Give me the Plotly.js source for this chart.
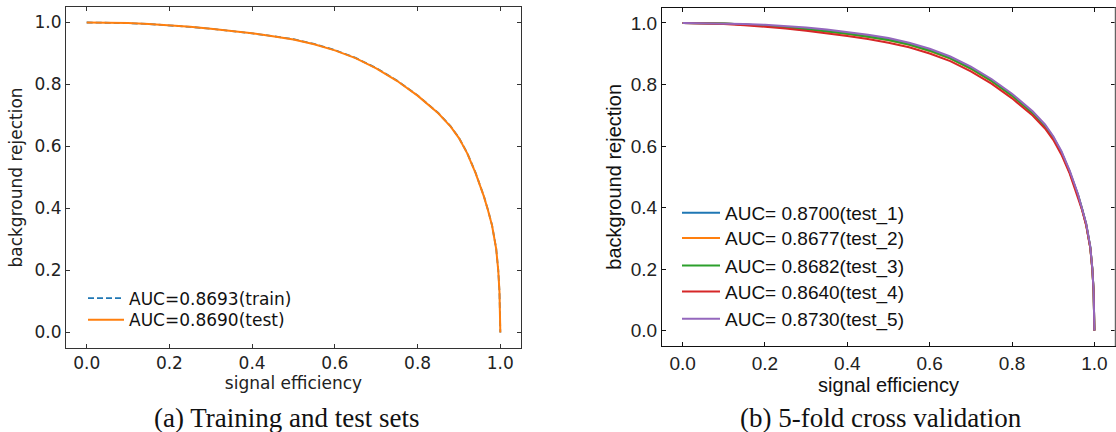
<!DOCTYPE html>
<html>
<head>
<meta charset="utf-8">
<script src="https://cdn.plot.ly/plotly-3.0.1.min.js"></script>
<style>html,body{margin:0;padding:0;background:#fff;}#chart{width:1116px;height:432px;}</style>
</head>
<body>
<div id="chart"></div>
<script>
// signal efficiency (x) values shared by all curves
const signalEff = [0, 0.05, 0.1, 0.15, 0.2, 0.25, 0.3, 0.35, 0.4, 0.45, 0.5, 0.55, 0.6, 0.65, 0.7, 0.75, 0.8, 0.85, 0.88, 0.9, 0.92, 0.94, 0.96, 0.97, 0.98, 0.99, 0.995, 0.998, 1.0];

// (a) training and test sets - background rejection
const bkgTrain = [1.000, 0.9995, 0.998, 0.995, 0.991, 0.986, 0.980, 0.973, 0.965, 0.956, 0.946, 0.931, 0.911, 0.886, 0.853, 0.813, 0.765, 0.708, 0.665, 0.628, 0.579, 0.516, 0.441, 0.396, 0.346, 0.271, 0.201, 0.131, 0.000];
const bkgTest  = [1.000, 0.9995, 0.998, 0.995, 0.991, 0.986, 0.980, 0.973, 0.965, 0.956, 0.945, 0.930, 0.910, 0.885, 0.852, 0.812, 0.764, 0.707, 0.664, 0.627, 0.578, 0.515, 0.440, 0.395, 0.345, 0.270, 0.200, 0.130, 0.000];

// (b) 5-fold cross validation - background rejection
const bkgFold1 = [1.000, 0.9995, 0.998, 0.995, 0.992, 0.987, 0.981, 0.975, 0.967, 0.958, 0.947, 0.932, 0.912, 0.887, 0.854, 0.814, 0.766, 0.709, 0.666, 0.629, 0.580, 0.517, 0.442, 0.397, 0.347, 0.272, 0.201, 0.131, 0.000];
const bkgFold2 = [1.000, 0.9995, 0.998, 0.995, 0.991, 0.985, 0.979, 0.972, 0.964, 0.955, 0.944, 0.929, 0.909, 0.884, 0.851, 0.811, 0.763, 0.706, 0.663, 0.626, 0.577, 0.514, 0.439, 0.394, 0.344, 0.269, 0.199, 0.129, 0.000];
const bkgFold3 = [1.000, 0.9995, 0.998, 0.995, 0.991, 0.986, 0.980, 0.973, 0.965, 0.955, 0.945, 0.930, 0.910, 0.885, 0.852, 0.812, 0.764, 0.707, 0.664, 0.627, 0.578, 0.515, 0.440, 0.395, 0.345, 0.270, 0.200, 0.130, 0.000];
const bkgFold4 = [1.000, 0.999, 0.997, 0.993, 0.988, 0.982, 0.975, 0.967, 0.958, 0.948, 0.936, 0.921, 0.901, 0.876, 0.843, 0.803, 0.755, 0.699, 0.657, 0.620, 0.572, 0.510, 0.436, 0.392, 0.342, 0.268, 0.198, 0.129, 0.000];
const bkgFold5 = [1.000, 0.9995, 0.999, 0.997, 0.994, 0.990, 0.985, 0.979, 0.971, 0.962, 0.951, 0.936, 0.916, 0.891, 0.858, 0.818, 0.770, 0.713, 0.670, 0.632, 0.583, 0.520, 0.444, 0.399, 0.348, 0.273, 0.202, 0.131, 0.000];

const leftLabels = ["AUC=0.8693(train)", "AUC=0.8690(test)"];
const foldLabels = ["AUC= 0.8700(test_1)", "AUC= 0.8677(test_2)", "AUC= 0.8682(test_3)", "AUC= 0.8640(test_4)", "AUC= 0.8730(test_5)"];
const foldSeries = [bkgFold1, bkgFold2, bkgFold3, bkgFold4, bkgFold5];
const foldColors = ["#1f77b4", "#ff7f0e", "#2ca02c", "#d62728", "#9467bd"];

const tickVals = [0, 0.2, 0.4, 0.6, 0.8, 1.0];
const tickText = ["0.0", "0.2", "0.4", "0.6", "0.8", "1.0"];
const captions = ["(a) Training and test sets", "(b) 5-fold cross validation"];
const xTitle = "signal efficiency";
const yTitle = "background rejection";

const LFONT = "DejaVu Sans, sans-serif";
const RFONT = "Liberation Sans, Arial, sans-serif";
const W = 1116, H = 432;

const traces = [
  {x: signalEff, y: bkgTrain, name: leftLabels[0], type: "scatter", mode: "lines",
   line: {color: "#1f77b4", width: 1.8, dash: "6px,3px"},
   xaxis: "x", yaxis: "y", legend: "legend"},
  {x: signalEff, y: bkgTest, name: leftLabels[1], type: "scatter", mode: "lines",
   line: {color: "#ff7f0e", width: 2},
   xaxis: "x", yaxis: "y", legend: "legend2"}
];
foldSeries.forEach((s, i) => {
  traces.push({x: signalEff, y: s, name: foldLabels[i], type: "scatter", mode: "lines",
    line: {color: foldColors[i], width: 2},
    xaxis: "x2", yaxis: "y2", legend: "legend" + (i + 3)});
});

function axisBase(font, size, col) {
  return {
    range: [-0.05, 1.05], autorange: false,
    tickmode: "array", tickvals: tickVals, ticktext: tickText,
    ticks: "inside", ticklen: 4, tickwidth: 1, tickcolor: col,
    showline: true, linecolor: col, linewidth: 1, mirror: "allticks",
    showgrid: false, zeroline: false, automargin: false,
    tickfont: {family: font, size: size, color: "#222"},
    fixedrange: true
  };
}

const xa = Object.assign(axisBase(LFONT, 17, "#333"), {domain: [66/W, 521/W], anchor: "y",
  title: {text: xTitle, font: {family: LFONT, size: 17, color: "#222"}, standoff: 4}});
const ya = Object.assign(axisBase(LFONT, 17, "#333"), {domain: [(H-348)/H, (H-7)/H], anchor: "x",
  title: {text: yTitle, font: {family: LFONT, size: 17, color: "#222"}, standoff: 7}});
const xa2 = Object.assign(axisBase(RFONT, 19, "#111"), {domain: [662/W, 1115/W], anchor: "y2",
  title: {text: xTitle, font: {family: RFONT, size: 20, color: "#111"}, standoff: 4}});
const ya2 = Object.assign(axisBase(RFONT, 19, "#111"), {domain: [(H-346)/H, (H-7.6)/H], anchor: "x2",
  title: {text: yTitle, font: {family: RFONT, size: 20, color: "#111"}, standoff: 3}});

function mkLegend(xpx, topPx, font, size, iw) {
  return {x: xpx/W, y: (H-topPx)/H, xanchor: "left", yanchor: "top",
    bgcolor: "rgba(0,0,0,0)", borderwidth: 0, itemwidth: iw,
    font: {family: font, size: size, color: "#111"}};
}

const layout = {
  width: W, height: H,
  margin: {l: 0, r: 0, t: 0, b: 0},
  paper_bgcolor: "#fff", plot_bgcolor: "#fff",
  xaxis: xa, yaxis: ya, xaxis2: xa2, yaxis2: ya2,
  legend: mkLegend(83, 280.5, LFONT, 17, 36),
  legend2: mkLegend(83, 302.3, LFONT, 17, 36),
  legend3: mkLegend(677, 194, RFONT, 19, 38),
  legend4: mkLegend(677, 219.2, RFONT, 19, 38),
  legend5: mkLegend(677, 246.6, RFONT, 19, 38),
  legend6: mkLegend(677, 272.6, RFONT, 19, 38),
  legend7: mkLegend(677, 300, RFONT, 19, 38),
  showlegend: true,
  shapes: [
    {type: "line", xref: "x2 domain", yref: "y2 domain", x0: 1, x1: 1, y0: 0, y1: 1,
     line: {color: "#b8b8b8", width: 1}, layer: "above"}
  ],
  annotations: [
    {text: captions[0], xref: "paper", yref: "paper", x: 286/W, y: (H-418)/H,
     xanchor: "center", yanchor: "middle", showarrow: false,
     font: {family: "Liberation Serif, Times New Roman, serif", size: 27, color: "#111"}},
    {text: captions[1], xref: "paper", yref: "paper", x: 881/W, y: (H-418)/H,
     xanchor: "center", yanchor: "middle", showarrow: false,
     font: {family: "Liberation Serif, Times New Roman, serif", size: 27, color: "#111"}}
  ]
};

Plotly.newPlot("chart", traces, layout, {staticPlot: true, displayModeBar: false});
</script>
</body>
</html>
